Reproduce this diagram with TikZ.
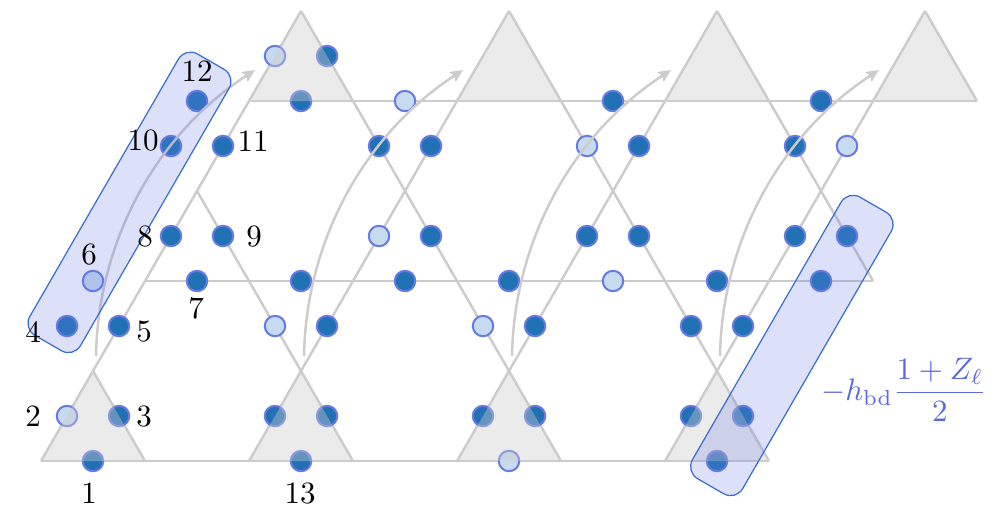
\documentclass[tikz,border=0pt]{standalone}
\usepackage{amsmath}
\usetikzlibrary{arrows.meta}
\definecolor{qdark}{RGB}{33,113,181}
\definecolor{qlight}{RGB}{198,219,239}
\definecolor{qborder}{RGB}{102,122,228}
\definecolor{boxline}{RGB}{60,110,205}
\definecolor{fblue}{RGB}{90,105,225}
\definecolor{lgray}{RGB}{204,204,204}
\definecolor{tgray}{RGB}{204,204,204}
\begin{document}
\begin{tikzpicture}[x=0.3226pt,y=-0.3226pt,
  latline/.style={draw=lgray,line width=0.8pt},
  qubit/.style={circle,draw=qborder,line width=0.65pt,minimum size=6.6pt,inner sep=0pt},
  dq/.style={qubit,fill=qdark},
  lq/.style={qubit,fill=qlight},
  trifill/.style={fill=tgray,fill opacity=0.4},
  flowarrow/.style={draw=lgray,line width=0.8pt,-{Stealth[length=4pt,width=3.6pt,inset=0.6pt]}},
  hlbox/.style={draw=boxline,line width=0.4pt,fill=qborder,fill opacity=0.23,rounded corners=4.5pt},
  lab/.style={inner sep=0pt}]
\useasboundingbox (0,0) rectangle (996,513);

% lattice vertices
\coordinate (h1a) at (41,461);  \coordinate (h1b) at (769,461);
\coordinate (h2a) at (145,281); \coordinate (h2b) at (873,281);
\coordinate (h3a) at (249,101); \coordinate (h3b) at (977,101);
\coordinate (p1a) at (41,461);  \coordinate (p1b) at (301,11);
\coordinate (p2a) at (249,461); \coordinate (p2b) at (509,11);
\coordinate (p3a) at (457,461); \coordinate (p3b) at (717,11);
\coordinate (p4a) at (665,461); \coordinate (p4b) at (925,11);
\coordinate (m0a) at (93,371);  \coordinate (m0b) at (145,461);
\coordinate (m1a) at (197,191); \coordinate (m1b) at (353,461);
\coordinate (m2a) at (301,11);  \coordinate (m2b) at (561,461);
\coordinate (m3a) at (509,11);  \coordinate (m3b) at (769,461);
\coordinate (m4a) at (717,11);  \coordinate (m4b) at (873,281);
\coordinate (m5a) at (925,11);  \coordinate (m5b) at (977,101);

% lattice lines
\foreach \n in {h1,h2,h3,p1,p2,p3,p4,m0,m1,m2,m3,m4,m5}
  \draw[latline] (\n a) -- (\n b);

% qubits
\foreach \x/\y/\s/\n in {
  93/461/dq/q1, 301/461/dq/q13, 509/461/lq/u509x461, 717/461/dq/u717x461,
  67/416/lq/q2, 119/416/dq/q3, 275/416/dq/u275x416, 327/416/dq/u327x416,
  483/416/dq/u483x416, 535/416/dq/u535x416, 691/416/dq/u691x416, 743/416/dq/u743x416,
  67/326/dq/q4, 119/326/dq/q5, 275/326/lq/u275x326, 327/326/dq/u327x326,
  483/326/lq/u483x326, 535/326/dq/u535x326, 691/326/dq/u691x326, 743/326/dq/u743x326,
  93/281/lq/q6, 197/281/dq/q7, 301/281/dq/u301x281, 405/281/dq/u405x281,
  509/281/dq/u509x281, 613/281/lq/u613x281, 717/281/dq/u717x281, 821/281/dq/u821x281,
  171/236/dq/q8, 223/236/dq/q9, 379/236/lq/u379x236, 431/236/dq/u431x236,
  587/236/dq/u587x236, 639/236/dq/u639x236, 795/236/dq/u795x236, 847/236/dq/u847x236,
  171/146/dq/q10, 223/146/dq/q11, 379/146/dq/u379x146, 431/146/dq/u431x146,
  587/146/lq/u587x146, 639/146/dq/u639x146, 795/146/dq/u795x146, 847/146/lq/u847x146,
  197/101/dq/q12, 301/101/dq/u301x101, 405/101/lq/u405x101, 613/101/dq/u613x101,
  821/101/dq/u821x101,
  275/56/lq/u275x56, 327/56/dq/u327x56}
  \node[\s] (\n) at (\x,\y) {};

% shaded triangles
\foreach \k in {0,1,2,3} {
  \fill[trifill] (41+208*\k,461) -- (145+208*\k,461) -- (93+208*\k,371) -- cycle;
  \fill[trifill] (249+208*\k,101) -- (353+208*\k,101) -- (301+208*\k,11) -- cycle;
}

% curved arrows
\foreach \k in {0,1,2,3} {
  \coordinate (cs\k) at (96+208*\k,356);
  \coordinate (ce\k) at (255+208*\k,70);
  \draw[flowarrow] (cs\k) .. controls +(2,-116) and +(-98,64) .. (ce\k);
}

% highlight boxes
\coordinate (b1a) at (22.9,328.4); \coordinate (b1b) at (73.5,357.7);
\coordinate (b1c) at (236.1,76.2); \coordinate (b1d) at (185.4,47.0);
\draw[hlbox] (b1a) -- (b1b) -- (b1c) -- (b1d) -- cycle;
\coordinate (b2a) at (685.5,471.7); \coordinate (b2b) at (735.7,500.7);
\coordinate (b2c) at (898.2,219.2); \coordinate (b2d) at (848.0,190.2);
\draw[hlbox] (b2a) -- (b2b) -- (b2c) -- (b2d) -- cycle;

% labels
\node[lab] (l1) at (89,493) {1};
\node[lab] (l13) at (300,493) {13};
\node[lab] (l2) at (33,416) {2};
\node[lab] (l3) at (144,416) {3};
\node[lab] (l4) at (33,332) {4};
\node[lab] (l5) at (144,332) {5};
\node[lab] (l6) at (89,255) {6};
\node[lab] (l7) at (196,308) {7};
\node[lab] (l8) at (145,237) {8};
\node[lab] (l9) at (254,237) {9};
\node[lab] (l10) at (143,141) {10};
\node[lab] (l11) at (253,141) {11};
\node[lab] (l12) at (197,71) {12};

\node[text=fblue,inner sep=0pt] (formula) at (904,390) {$-h_{\mathrm{bd}}\dfrac{1+Z_\ell}{2}$};
\end{tikzpicture}
\end{document}
